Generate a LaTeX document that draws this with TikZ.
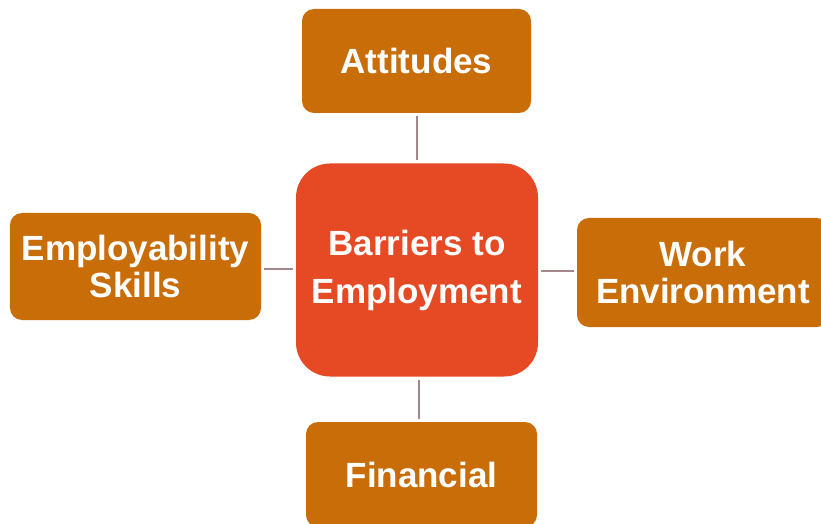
\documentclass[tikz,border=0pt]{standalone}
\usepackage{fontspec}
\setmainfont{Liberation Sans}
\usetikzlibrary{positioning}
\definecolor{hubred}{HTML}{E54A24}
\definecolor{leaforange}{HTML}{C86D07}
\definecolor{linkgray}{HTML}{A5868C}

\begin{document}
\begin{tikzpicture}[x=1bp,y=-1bp,
  leaf/.style={fill=leaforange,text=white,rounded corners=12bp,inner sep=0pt,
    align=center,font=\bfseries\fontsize{35bp}{37bp}\selectfont},
  hub/.style={fill=hubred,text=white,rounded corners=34bp,inner sep=0pt,
    align=center,font=\bfseries\fontsize{35bp}{48bp}\selectfont},
  link/.style={draw=linkgray,line width=2bp,shorten <=3bp,shorten >=3bp}]
\clip (0,0) rectangle (821,524);
\fill[white] (0,0) rectangle (821,524);
% centre and the four causes round it
\node[hub,minimum width=242bp,minimum height=213bp] (barriers) at (417,270) {Barriers to\\Employment};
\node[leaf,minimum width=229bp,minimum height=104bp] (attitudes) at (416.5,61) {Attitudes};
\node[leaf,minimum width=251bp,minimum height=107bp] (skills) at (135.5,266.5) {Employability\\Skills};
\node[leaf,minimum width=252bp,minimum height=109bp] (workenv) at (703,272.5) {Work\\Environment};
\node[leaf,minimum width=231bp,minimum height=105bp] (financial) at (421.5,474.5) {Financial};
% connectors
\draw[link] (attitudes.south) -- (attitudes.south |- barriers.north);
\draw[link] (skills.east |- 0,269) -- (barriers.west |- 0,269);
\draw[link] (barriers.east |- 0,271) -- (workenv.west |- 0,271);
\draw[link] (barriers.south -| 419,0) -- (financial.north -| 419,0);
\end{tikzpicture}
\end{document}
